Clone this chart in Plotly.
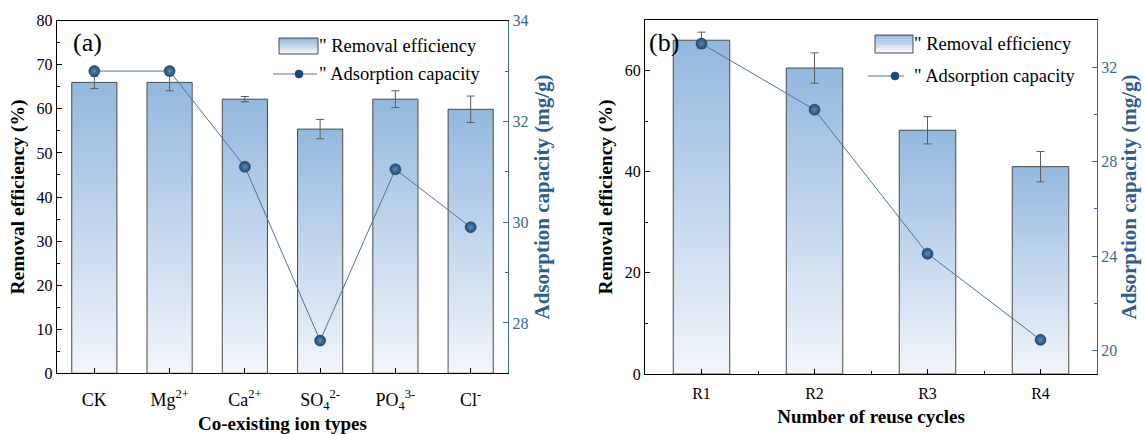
import plotly.graph_objects as go

# ---------------- data ----------------
ion_types = ["CK", "Mg<sup>2+</sup>", "Ca<sup>2+</sup>", "SO<sub>4</sub><sup>2-</sup>",
             "PO<sub>4</sub><sup>3-</sup>", "Cl<sup>-</sup>"]
ion_removal = [66.0, 66.0, 62.2, 55.4, 62.2, 59.9]
ion_removal_err = [1.4, 1.9, 0.6, 2.2, 1.9, 3.0]
ion_capacity = [33.0, 33.0, 31.1, 27.65, 31.05, 29.9]

cycles = ["R1", "R2", "R3", "R4"]
cycle_removal = [66.0, 60.5, 48.2, 41.0]
cycle_removal_err = [1.6, 3.0, 2.7, 3.0]
cycle_capacity = [33.0, 30.2, 24.1, 20.45]

# ---------------- style ----------------
W, H = 1145, 434
SERIF = "Liberation Serif"
BLUE_AX = "#3b6796"
BLUE_TITLE = "#2f5d8c"
LINE_BLUE = "#4d739c"
DOT = "#1d4a78"
BAR_TOP = "#93b8de"
BAR_BOTTOM = "#f3f6fb"
BAR_EDGE = "#4a4a4a"
ERR = "#5c5c5c"


def px(x):
    return x / W


def py(y):
    return 1 - y / H


fig = go.Figure()


def add_panel(cats, removal, err, capacity, bar_w, xa, ya_main, ya_bar, ya_cap):
    idx = list(range(len(cats)))
    # gradient-filled bar bodies
    for i, v in zip(idx, removal):
        fig.add_trace(go.Scatter(
            x=[i - bar_w / 2, i + bar_w / 2, i + bar_w / 2, i - bar_w / 2, i - bar_w / 2],
            y=[0, 0, v, v, 0],
            mode="lines", fill="toself",
            fillgradient=dict(type="vertical",
                              colorscale=[[0, BAR_BOTTOM], [1, BAR_TOP]]),
            line=dict(width=0), hoverinfo="skip", showlegend=False,
            xaxis=xa, yaxis=ya_main))
    # bar outlines with error bars
    fig.add_trace(go.Bar(
        x=idx, y=removal, width=bar_w,
        marker=dict(color="rgba(0,0,0,0)", line=dict(color=BAR_EDGE, width=1)),
        error_y=dict(type="data", array=err, color=ERR, thickness=1, width=4),
        name="Removal efficiency", showlegend=False,
        xaxis=xa, yaxis=ya_bar))
    # adsorption capacity line
    fig.add_trace(go.Scatter(
        x=idx, y=capacity, mode="lines+markers",
        line=dict(color=LINE_BLUE, width=1),
        marker=dict(size=11, color=DOT,
                    gradient=dict(type="radial", color="#5f8ab6"),
                    line=dict(color="#173d63", width=0.6)),
        name="Adsorption capacity", showlegend=False,
        xaxis=xa, yaxis=ya_cap))


add_panel(ion_types, ion_removal, ion_removal_err, ion_capacity, 0.6, "x", "y", "y2", "y3")
add_panel(cycles, cycle_removal, cycle_removal_err, cycle_capacity, 0.5, "x2", "y4", "y5", "y6")

dom_xa = [px(56.7), px(508.3)]
dom_xb = [px(645), px(1097)]
dom_ya = [py(373.3), py(20.7)]
dom_yb = [py(374), py(20)]

axis_font = dict(family=SERIF, size=16, color="black")
title_font = dict(family=SERIF, size=19, color="black", weight="bold")
ytitle_font = dict(family=SERIF, size=19.5, color="black", weight="bold")
blue_tick_font = dict(family=SERIF, size=16, color=BLUE_AX)
blue_title_font = dict(family=SERIF, size=21, color=BLUE_TITLE, weight="bold")

common_x = dict(showline=True, linecolor="black", linewidth=1.2, mirror=True,
                ticks="inside", ticklen=5, tickcolor="black", showgrid=False,
                zeroline=False, automargin=False)
common_yl = dict(showline=True, linecolor="black", linewidth=1.2,
                 ticks="inside", ticklen=5, tickcolor="black", showgrid=False,
                 zeroline=False, tickfont=axis_font, title_font=ytitle_font,
                 automargin=False)
common_yr = dict(showline=True, linecolor=BLUE_AX, linewidth=1.2, side="right",
                 ticks="inside", ticklen=5, tickcolor=BLUE_AX, showgrid=False,
                 zeroline=False, tickfont=blue_tick_font, title_font=blue_title_font,
                 automargin=False)
hidden_y = dict(visible=False, automargin=False)

fig.update_layout(
    width=W, height=H, margin=dict(l=0, r=0, t=0, b=0, autoexpand=False),
    paper_bgcolor="white", plot_bgcolor="white",
    font=dict(family=SERIF),
    showlegend=False, barmode="overlay",
    xaxis=dict(domain=dom_xa, anchor="y", range=[-0.5, len(ion_types) - 0.5],
               tickmode="array", tickvals=list(range(len(ion_types))), ticktext=ion_types,
               tickfont=dict(family=SERIF, size=18, color="black"), ticklabelstandoff=10,
               title=dict(text="Co-existing ion types", font=title_font, standoff=2),
               **common_x),
    yaxis=dict(domain=dom_ya, anchor="x", range=[0, 80], dtick=10, tick0=0,
               minor=dict(dtick=5, ticks="inside", ticklen=3, tickcolor="black"),
               title=dict(text="Removal efficiency (%)", standoff=6), **common_yl),
    yaxis2=dict(overlaying="y", anchor="x", range=[0, 80], **hidden_y),
    yaxis3=dict(overlaying="y", anchor="x", range=[27, 34], tick0=28, dtick=2,
                minor=dict(dtick=1, ticks="inside", ticklen=3, tickcolor=BLUE_AX),
                title=dict(text="Adsorption capacity (mg/g)", standoff=6), **common_yr),
    xaxis2=dict(domain=dom_xb, anchor="y4", range=[-0.5, len(cycles) - 0.5],
                tickmode="array", tickvals=list(range(len(cycles))), ticktext=cycles,
                minor=dict(tickmode="array",
                           tickvals=[i + 0.5 for i in range(len(cycles) - 1)],
                           ticks="inside", ticklen=3, tickcolor="black"),
                tickfont=dict(family=SERIF, size=16, color="black"), ticklabelstandoff=5,
                title=dict(text="Number of reuse cycles", font=title_font, standoff=8),
                **common_x),
    yaxis4=dict(domain=dom_yb, anchor="x2", range=[0, 70], dtick=20, tick0=0,
                minor=dict(dtick=10, ticks="inside", ticklen=3, tickcolor="black"),
                title=dict(text="Removal efficiency (%)", standoff=6), **common_yl),
    yaxis5=dict(overlaying="y4", anchor="x2", range=[0, 70], **hidden_y),
    yaxis6=dict(overlaying="y4", anchor="x2", range=[19, 34], tick0=20, dtick=4,
                minor=dict(dtick=2, ticks="inside", ticklen=3, tickcolor=BLUE_AX),
                title=dict(text="Adsorption capacity (mg/g)", standoff=5), **common_yr),
)

# panel labels
for label, xc, yc in [("(a)", 87, 42), ("(b)", 664, 42)]:
    fig.add_annotation(text=label, x=px(xc), y=py(yc), xref="paper", yref="paper",
                       showarrow=False, xanchor="center", yanchor="middle",
                       font=dict(family=SERIF, size=26, color="black"))


# legend keys
def legend_block(sw_x0, sw_x1, sw_y0, sw_y1, txt_x, row1_y, ln_x0, ln_x1, dot_x, row2_y):
    n = 8
    for k in range(n):
        t = k / (n - 1)
        r0, g0, b0 = 0x93, 0xb8, 0xde
        r1, g1, b1 = 0xf3, 0xf6, 0xfb
        col = "rgb(%d,%d,%d)" % (r0 + (r1 - r0) * t, g0 + (g1 - g0) * t, b0 + (b1 - b0) * t)
        ya = sw_y0 + (sw_y1 - sw_y0) * k / n
        yb = sw_y0 + (sw_y1 - sw_y0) * (k + 1) / n
        fig.add_shape(type="rect", xref="paper", yref="paper",
                      x0=px(sw_x0), x1=px(sw_x1), y0=py(ya), y1=py(yb),
                      fillcolor=col, line=dict(width=0), layer="above")
    fig.add_shape(type="rect", xref="paper", yref="paper",
                  x0=px(sw_x0), x1=px(sw_x1), y0=py(sw_y0), y1=py(sw_y1),
                  fillcolor="rgba(0,0,0,0)", line=dict(color=BAR_EDGE, width=1), layer="above")
    fig.add_annotation(text='" Removal efficiency', x=px(txt_x), y=py(row1_y),
                       xref="paper", yref="paper", showarrow=False,
                       xanchor="left", yanchor="middle",
                       font=dict(family=SERIF, size=18.5, color="black"))
    fig.add_shape(type="line", xref="paper", yref="paper",
                  x0=px(ln_x0), x1=px(ln_x1), y0=py(row2_y), y1=py(row2_y),
                  line=dict(color=LINE_BLUE, width=1), layer="above")
    fig.add_shape(type="circle", xref="paper", yref="paper",
                  x0=px(dot_x - 4), x1=px(dot_x + 4), y0=py(row2_y - 4), y1=py(row2_y + 4),
                  fillcolor=DOT, line=dict(color="#173d63", width=0.6), layer="above")
    fig.add_annotation(text='" Adsorption capacity', x=px(txt_x), y=py(row2_y),
                       xref="paper", yref="paper", showarrow=False,
                       xanchor="left", yanchor="middle",
                       font=dict(family=SERIF, size=18.5, color="black"))


legend_block(279, 318, 38, 54, 317, 46, 273, 317, 299, 74)
legend_block(875, 913, 35, 53, 912, 44, 868, 904, 895, 76)

fig.write_html("out.html")
